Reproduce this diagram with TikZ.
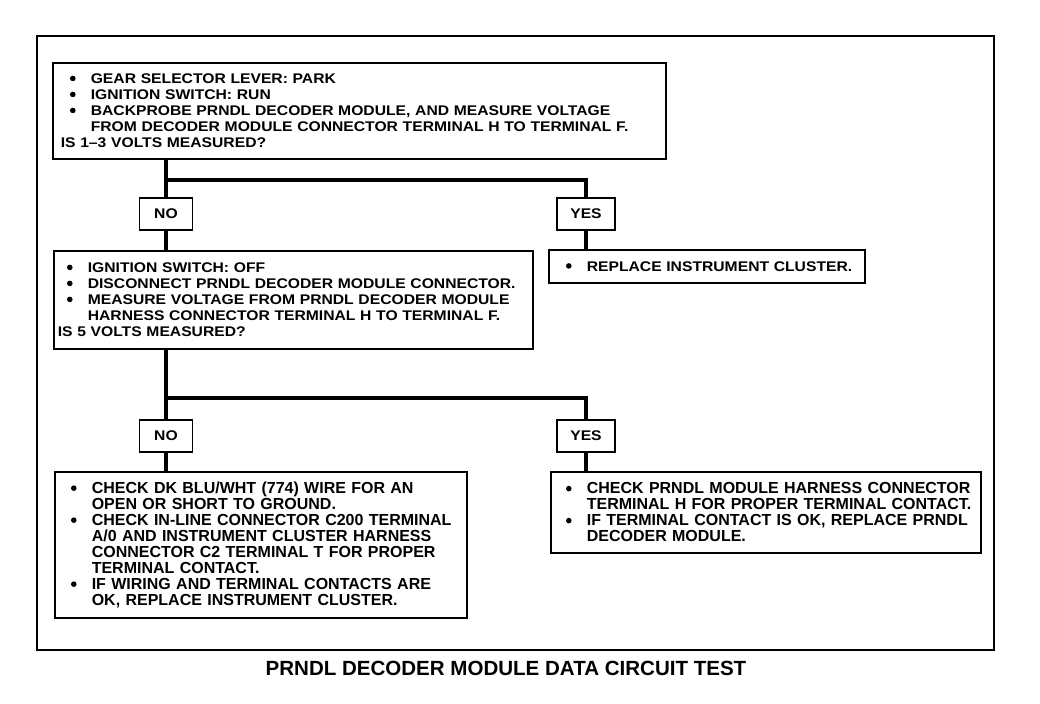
\documentclass[tikz,border=0pt]{standalone}
\usepackage{fontspec}
\setmainfont{Liberation Sans}
\newfontfamily\widefont{Liberation Sans}[FakeStretch=1.12]
\usepackage{tikz}
\usetikzlibrary{positioning,calc}
\newcommand{\bul}{\makebox[22.5pt][l]{\hspace*{6.9pt}%
  \tikz[baseline=0pt]\fill (0,3.9pt) circle (2.1pt);}}
\newcommand{\ind}{\makebox[22.5pt]{}}
\tikzset{
  frame/.style={draw,line width=1.5pt},
  qbox/.style={draw,line width=1.2pt,anchor=north west,align=left,
               inner ysep=0pt,
               font=\widefont\bfseries\fontsize{10.5}{12}\selectfont},
  abox/.style={qbox,font=\bfseries\fontsize{12}{12}\selectfont},
  tag/.style={draw,line width=1.2pt,inner sep=0pt,minimum height=24pt,
              font=\widefont\bfseries\fontsize{10.5}{12}\selectfont},
  conn/.style={line width=3pt},
  title/.style={font=\bfseries\fontsize{15.4}{16}\selectfont},
}
\begin{document}
\begin{tikzpicture}[x=0.75pt,y=-0.75pt]
\useasboundingbox (0,0) rectangle (1040,704);
\draw[frame] (37,36) rectangle (994,650);

% first check
\node[qbox,inner xsep=6pt,text width=447.75pt,minimum height=72pt] (q1) at (52,62)
  {\bul GEAR SELECTOR LEVER: PARK\\
   \bul IGNITION SWITCH: RUN\\
   \bul BACKPROBE PRNDL DECODER MODULE, AND MEASURE VOLTAGE\\
   \ind FROM DECODER MODULE CONNECTOR TERMINAL H TO TERMINAL F.\\
   IS 1–3 VOLTS MEASURED?};

\node[tag,minimum width=39.75pt] (no1) at (166,214) {NO};
\node[tag,minimum width=43.5pt] (yes1) at (586,214) {YES};

% second check
\node[qbox,inner xsep=3pt,text width=353.25pt,minimum height=73.5pt] (q2) at (53,250)
  {\bul IGNITION SWITCH: OFF\\
   \bul DISCONNECT PRNDL DECODER MODULE CONNECTOR.\\
   \bul MEASURE VOLTAGE FROM PRNDL DECODER MODULE\\
   \ind HARNESS CONNECTOR TERMINAL H TO TERMINAL F.\\
   IS 5 VOLTS MEASURED?};

\node[qbox,inner xsep=6pt,text width=225pt,minimum height=24.75pt] (a1) at (548,249)
  {\bul REPLACE INSTRUMENT CLUSTER.};

\node[tag,minimum width=39.75pt] (no2) at (166,436) {NO};
\node[tag,minimum width=43.5pt] (yes2) at (586,436) {YES};

% results
\node[abox,inner xsep=5.25pt,text width=298.5pt,minimum height=109.5pt] (a2) at (54,471)
  {\bul CHECK DK BLU/WHT (774) WIRE FOR AN\\
   \ind OPEN OR SHORT TO GROUND.\\
   \bul CHECK IN-LINE CONNECTOR C200 TERMINAL\\
   \ind A/0 AND INSTRUMENT CLUSTER HARNESS\\
   \ind CONNECTOR C2 TERMINAL T FOR PROPER\\
   \ind TERMINAL CONTACT.\\
   \bul IF WIRING AND TERMINAL CONTACTS ARE\\
   \ind OK, REPLACE INSTRUMENT CLUSTER.};

\node[abox,inner xsep=4.5pt,text width=313.5pt,minimum height=60.75pt] (a3) at (550,471)
  {\bul CHECK PRNDL MODULE HARNESS CONNECTOR\\
   \ind TERMINAL H FOR PROPER TERMINAL CONTACT.\\
   \bul IF TERMINAL CONTACT IS OK, REPLACE PRNDL\\
   \ind DECODER MODULE.};

% connectors
\coordinate (j1) at (166,180);
\coordinate (j2) at (166,398);
\draw[conn] (no1 |- q1.south) -- (no1.north);
\draw[conn] (j1) -| (yes1.north);
\draw[conn] (no1.south) -- (no1.south |- q2.north);
\draw[conn] (yes1.south) -- (yes1.south |- a1.north);
\draw[conn] (no2 |- q2.south) -- (no2.north);
\draw[conn] (j2) -| (yes2.north);
\draw[conn] (no2.south) -- (no2.south |- a2.north);
\draw[conn] (yes2.south) -- (yes2.south |- a3.north);

\node[title] (ttl) at (506,668) {PRNDL DECODER MODULE DATA CIRCUIT TEST};
\end{tikzpicture}
\end{document}
